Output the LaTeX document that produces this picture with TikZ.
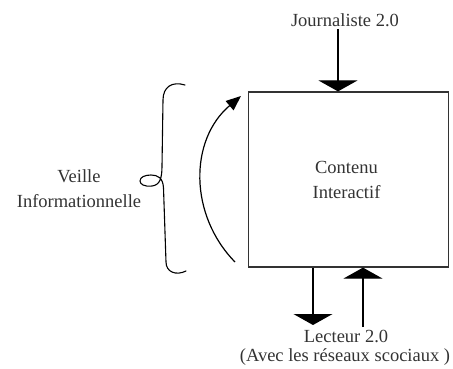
\documentclass[tikz,border=0pt]{standalone}
\usepackage{fontspec}
\setmainfont{Liberation Serif}
\usetikzlibrary{arrows.meta}
\begin{document}
\begin{tikzpicture}[x=1pt,y=-1pt,
  txt/.style={font=\fontsize{18.5}{25}\selectfont, text=black!80, inner sep=0pt, align=center},
  boxst/.style={draw=black!80, line width=1.2pt, minimum width=200pt, minimum height=175pt, inner sep=0pt},
  bigarrow/.style={draw=black, line width=1.2pt, -{Triangle[width=39pt,length=11pt]}},
  curvearrow/.style={draw=black, line width=1.2pt, -{Triangle[width=12pt,length=15pt]}},
  bracest/.style={draw=black, line width=1.1pt, line cap=round, line join=round}]
\useasboundingbox (0,0) rectangle (453,369);

\node[boxst] (box) at (348.5,179.5) {};
\node[txt] (cont) at (346.5,179.5) {Contenu\\Interactif};

\node[txt] (journ) at (345,20) {Journaliste 2.0};
\node[txt] (lect) at (346,336) {Lecteur 2.0};
\node[txt] (avec) at (345,357) {(Avec les réseaux scociaux )};
\node[txt] (veille) at (79,188.5) {Veille\\Informationnelle};

% top arrow
\coordinate (jtop) at (338,29);
\draw[bigarrow] (jtop) -- (jtop |- box.north);

% bottom arrows
\coordinate (dbot) at (313,325);
\draw[bigarrow] (dbot |- box.south) -- (dbot);
\coordinate (ubot) at (363,327);
\draw[bigarrow] (ubot) -- (ubot |- box.south);

% curved arrow
\coordinate (cstart) at (235,262);
\coordinate (cend) at (241,96);
\draw[curvearrow] (cstart) .. controls (189,215) and (189,140) .. (cend);

% hand-drawn brace
\coordinate (btop) at (185,85);
\coordinate (bbot) at (186,271);
\draw[bracest] (btop) .. controls (172,81) and (163,87) .. (163,100)
  -- (162,166)
  .. controls (162,178) and (160,185) .. (152,186)
  .. controls (144,187) and (140,184) .. (140,181)
  .. controls (140,177) and (145,175) .. (151,175)
  .. controls (158,175) and (163,178) .. (163.5,188)
  -- (166,262)
  .. controls (166,272) and (176,276) .. (bbot);
\end{tikzpicture}
\end{document}
